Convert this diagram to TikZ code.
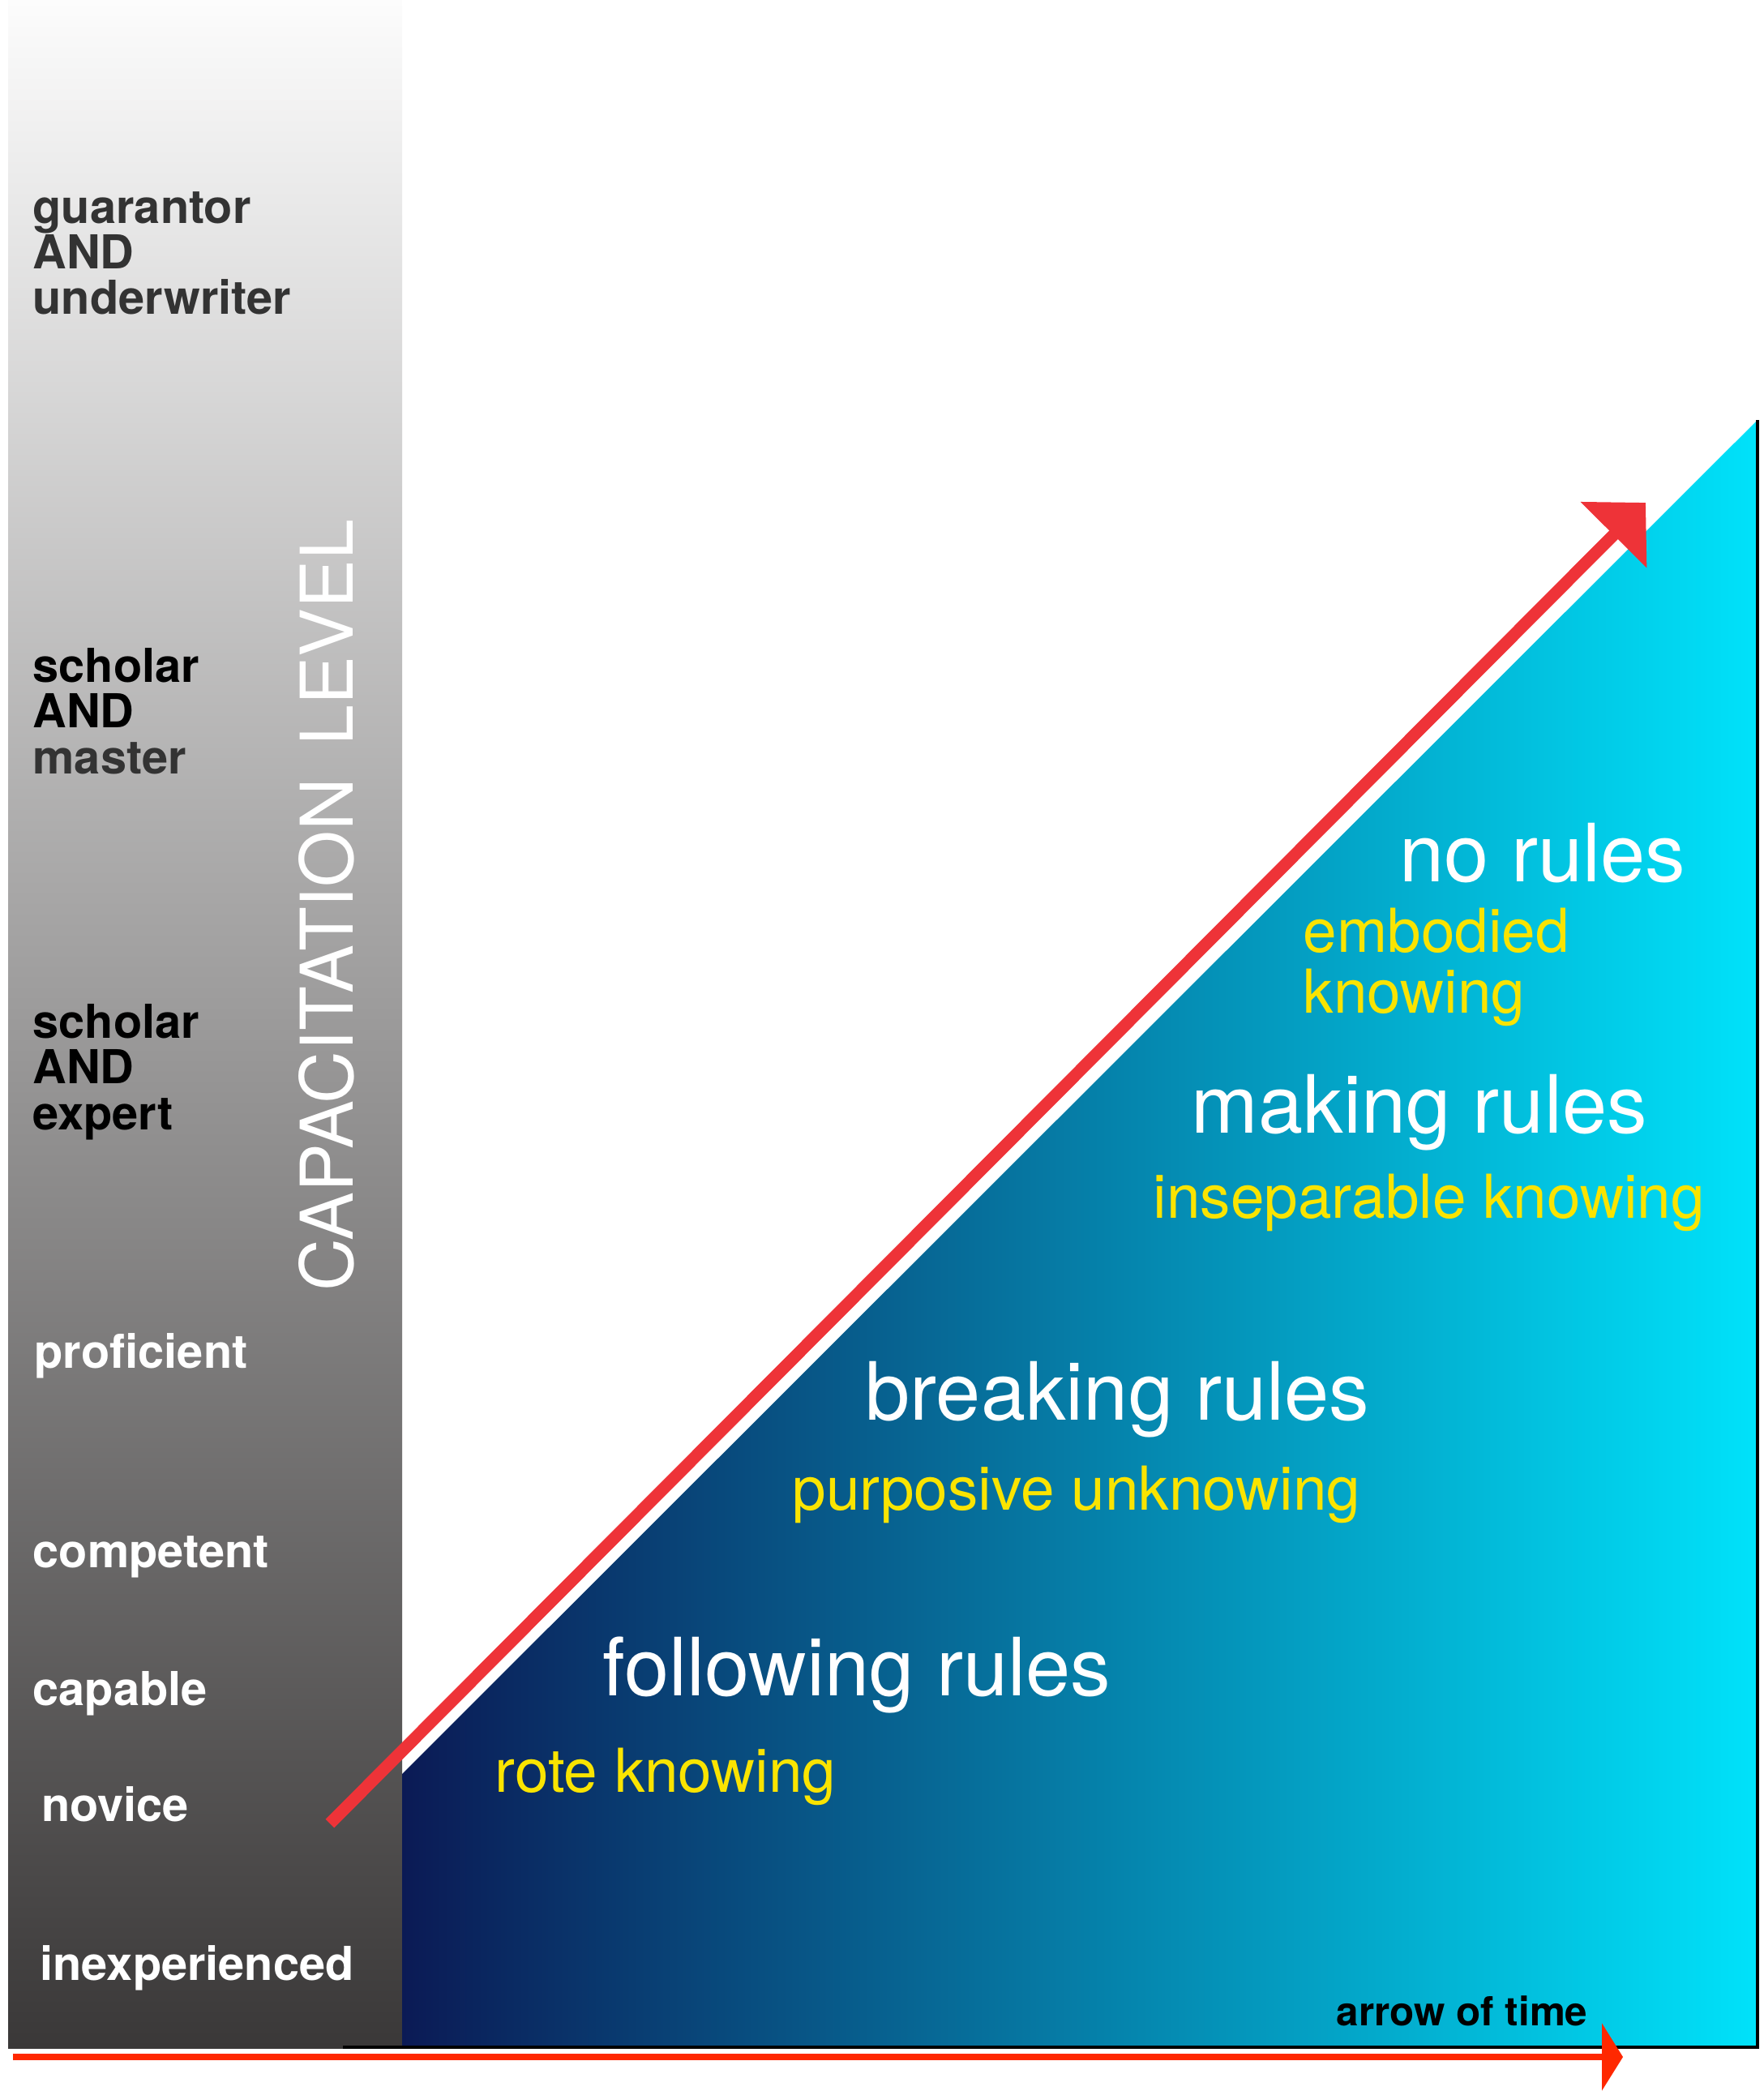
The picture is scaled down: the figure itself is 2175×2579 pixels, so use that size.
\documentclass[tikz,border=0pt]{standalone}
\usepackage{fontspec}
\setmainfont{TeX Gyre Heros}
\usepackage{xcolor}
\usetikzlibrary{arrows.meta, positioning}

\definecolor{barTop}{RGB}{252,252,252}
\definecolor{barBottom}{RGB}{58,56,56}
\definecolor{navyLeft}{RGB}{11,26,85}
\definecolor{cyanRight}{RGB}{0,226,250}
\definecolor{riseRed}{RGB}{238,51,56}
\definecolor{timeRed}{RGB}{255,40,0}
\definecolor{knowYellow}{RGB}{250,228,0}
\definecolor{levelGray}{RGB}{51,51,51}

\begin{document}
\begin{tikzpicture}[x=0.01cm, y=-0.01cm, >=Stealth,
  level/.style={anchor=base west, inner sep=0pt, align=left, font=\fontsize{16.4}{16}\selectfont\bfseries},
  rules/.style={anchor=base west, inner sep=0pt, text=white, font=\fontsize{28.2}{30}\selectfont},
  knowing/.style={anchor=base west, inner sep=0pt, align=left, text=knowYellow, font=\fontsize{21.25}{21.3}\selectfont}]
  \useasboundingbox (0,0) rectangle (2175,2579);
  % Capacitation bar and rules area
  \shade[top color=barTop, bottom color=barBottom] (10,0) rectangle (496,2526);
  \shade[left color=navyLeft, right color=cyanRight] (496,2188) -- (2168,518) -- (2168,2525) -- (496,2525) -- cycle;
  \draw[line width=0.04cm] (423,2525) -- (2168,2525) -- (2168,518);
  % Levels (multi-line nodes sit on their last line)
  \node[level, text=levelGray] (guarantor) at (40,388) {guarantor\\AND\\underwriter};
  \node[level, text=black] (master) at (40,954) {scholar\\AND\\\textcolor{levelGray}{master}};
  \node[level, text=black] (expert) at (40,1393) {scholar\\AND\\expert};
  \node[level, text=white] (proficient) at (42,1687) {proficient};
  \node[level, text=white] (competent) at (40,1933) {competent};
  \node[level, text=white] (capable) at (40,2103) {capable};
  \node[level, text=white] (novice) at (51,2246) {novice};
  \node[level, text=white] (inexperienced) at (49,2442) {inexperienced};
  \node[anchor=base west, inner sep=0pt, rotate=90, text=white, font=\fontsize{25.5}{25}\selectfont] (capacitation) at (435,1593) {CAPACITATION\hspace{0.15cm} LEVEL};
  % Rules and knowing
  \node[rules] (norules) at (1726,1087) {no rules};
  \node[knowing] (embodied) at (1607,1249) {embodied\\knowing};
  \node[rules] (making) at (1469,1397) {making rules};
  \node[knowing] (inseparable) at (1422,1502) {inseparable knowing};
  \node[rules] (breaking) at (1067,1751) {breaking rules};
  \node[knowing] (purposive) at (977,1862) {purposive unknowing};
  \node[rules] (following) at (743,2091) {following rules};
  \node[knowing] (rote) at (610,2210) {rote knowing};
  % Arrows
  \coordinate (start) at (407,2249);
  \coordinate (peak) at (2030,620);
  \draw[riseRed, line width=0.15cm, -{Triangle[length=0.56cm, width=1.12cm]}] (start) -- (peak);
  \coordinate (t0) at (16,2537);
  \coordinate (t1) at (2002,2537);
  \draw[timeRed, line width=0.08cm, -{Triangle[length=0.26cm, width=0.82cm]}] (t0) -- (t1);
  \node[anchor=base west, inner sep=0pt, font=\fontsize{14.05}{15}\selectfont\bfseries] (timelabel) at (1648,2498) {arrow of time};
\end{tikzpicture}
\end{document}
